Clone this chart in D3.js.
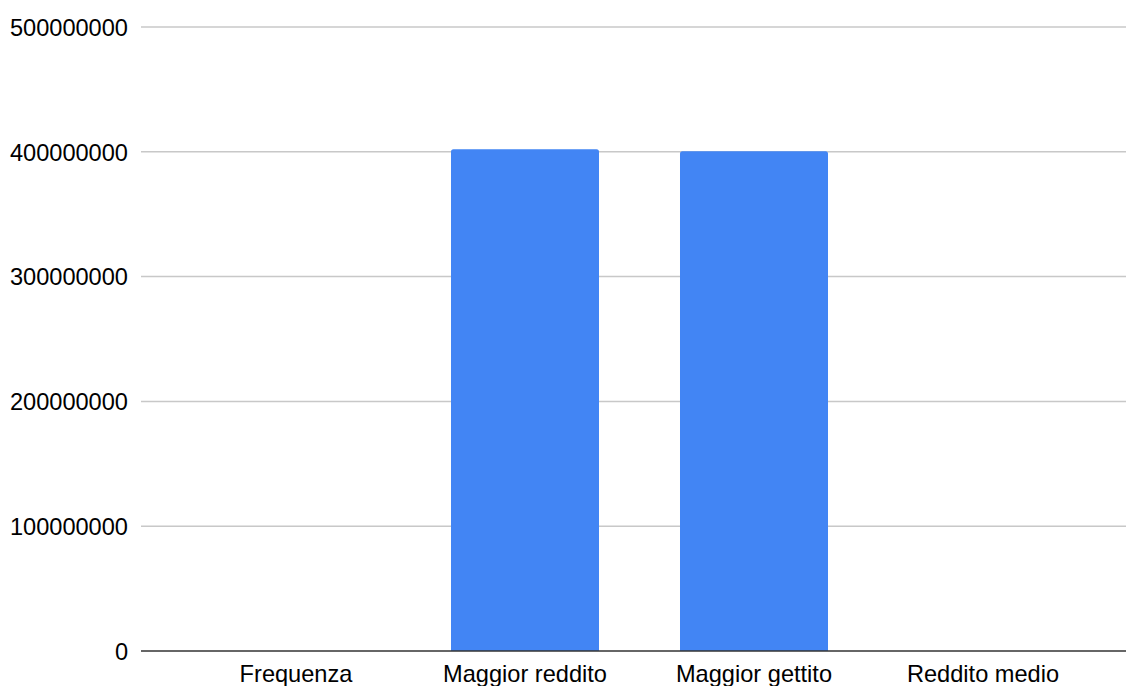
<!DOCTYPE html>
<html>
<head>
<meta charset="utf-8">
<script src="https://cdn.jsdelivr.net/npm/d3@7"></script>
<style>
  html, body { margin: 0; padding: 0; background: #fff; }
  svg { display: block; }
  text { font-family: "Liberation Sans", Arial, Helvetica, sans-serif; fill: #000; }
</style>
</head>
<body>
<svg id="chart" width="1126" height="686"></svg>
<script>
// Categories and values
const categories = ["Frequenza", "Maggior reddito", "Maggior gettito", "Reddito medio"];
const values = [1500, 402000000, 400500000, 32000];
const yTicks = [0, 100000000, 200000000, 300000000, 400000000, 500000000];

const W = 1126, H = 686;
const gridLeft = 141, gridRight = 1126;
const svg = d3.select("#chart");

const y = d3.scaleLinear().domain([0, 500000000]).range([651, 27]);
const x = d3.scaleBand()
  .domain(categories)
  .range([181.5, 1097.5])
  .paddingInner(0.3537)
  .paddingOuter(0.3537 / 2);

// Horizontal gridlines
svg.append("g")
  .selectAll("line")
  .data(yTicks.filter(d => d !== 0))
  .join("line")
  .attr("x1", gridLeft).attr("x2", gridRight)
  .attr("y1", d => y(d))
  .attr("y2", d => y(d))
  .attr("stroke", "#c8c8c8")
  .attr("stroke-width", 1.5);

// Y axis labels
const yAxis = d3.axisLeft(y).tickValues(yTicks).tickFormat(d3.format("d")).tickSize(0).tickPadding(0);
const yg = svg.append("g").attr("transform", "translate(128,0)").call(yAxis);
yg.select(".domain").remove();
yg.selectAll("text")
  .attr("font-size", "23.6px")
  .attr("font-family", "'Liberation Sans', Arial, sans-serif")
  .attr("fill", "#000")
  .attr("dy", "0.35em")
  .attr("x", 0);

// Bars with rounded top corners
const r = 2.5;
function barPath(d, i) {
  const x0 = x(categories[i]), x1 = x0 + x.bandwidth();
  const top = y(d), bot = y(0);
  const rr = Math.min(r, (bot - top) / 2);
  return `M${x0},${bot}V${top + rr}Q${x0},${top} ${x0 + rr},${top}H${x1 - rr}Q${x1},${top} ${x1},${top + rr}V${bot}Z`;
}
svg.append("g")
  .selectAll("path")
  .data(values)
  .join("path")
  .attr("d", (d, i) => barPath(d, i))
  .attr("fill", "#4285f4");

// Baseline
svg.append("line")
  .attr("x1", gridLeft).attr("x2", gridRight)
  .attr("y1", y(0)).attr("y2", y(0))
  .attr("stroke", "#333333")
  .attr("stroke-width", 1.5);

// X axis labels
const xAxis = d3.axisBottom(x).tickSize(0).tickPadding(0);
const xg = svg.append("g").call(xAxis);
xg.select(".domain").remove();
xg.selectAll("text")
  .attr("font-size", "23.6px")
  .attr("font-family", "'Liberation Sans', Arial, sans-serif")
  .attr("fill", "#000")
  .attr("y", 682)
  .attr("dy", null);
</script>
</body>
</html>
